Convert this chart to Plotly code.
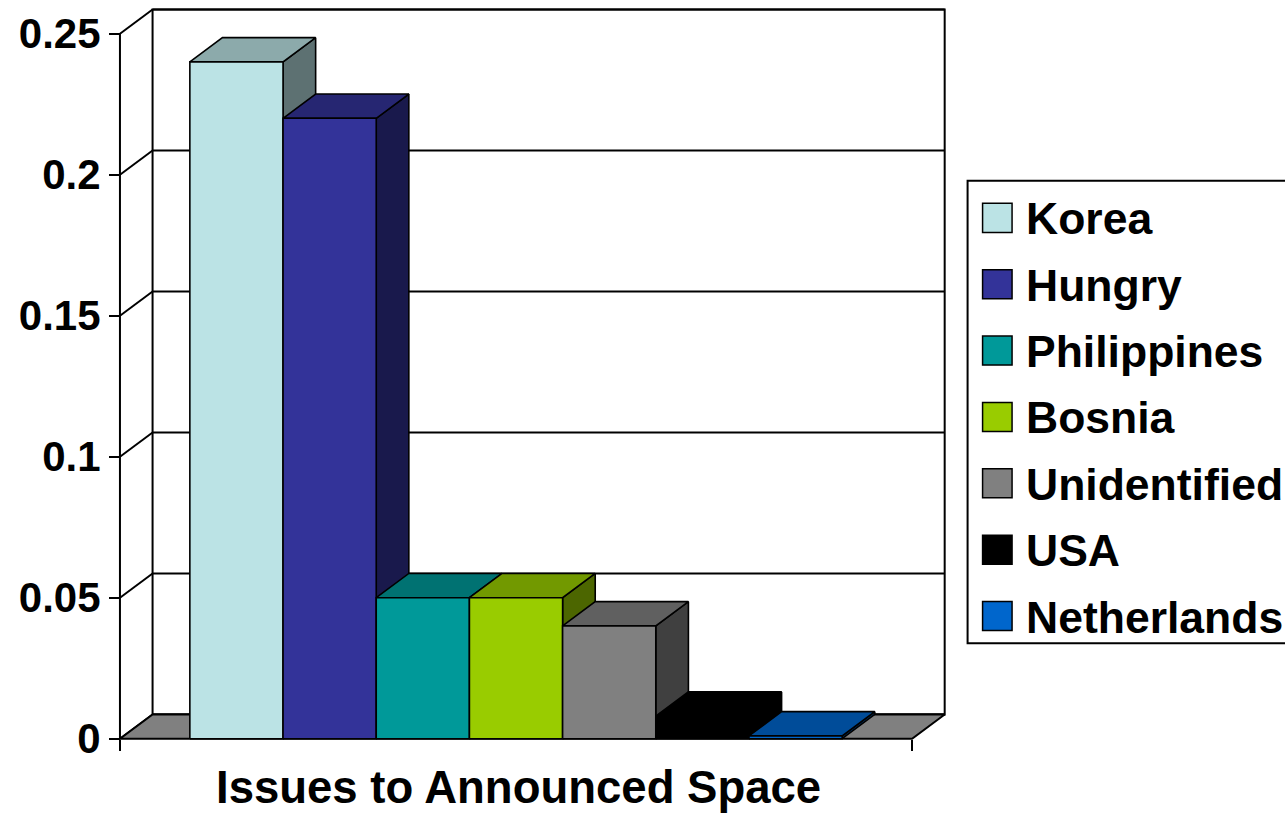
import plotly.graph_objects as go

# ---- data -------------------------------------------------------------
countries = ["Korea", "Hungry", "Philippines", "Bosnia", "Unidentified", "USA", "Netherlands"]
values = [0.24, 0.22, 0.05, 0.05, 0.04, 0.008, 0.001]
colors = ["#BBE3E5", "#333399", "#009999", "#99CC00", "#808080", "#000000", "#0066CC"]
tick_vals = [0, 0.05, 0.1, 0.15, 0.2, 0.25]
tick_text = ["0", "0.05", "0.1", "0.15", "0.2", "0.25"]
category_label = "Issues to Announced Space"

# ---- pseudo-3D geometry (axis units) -----------------------------------
GAP = 0.75            # empty floor on each side of the column group, in column widths
DEPTH_X = 0.35        # oblique depth offset along x (column widths)
DEPTH_Y = 0.0086      # oblique depth offset along y (value units)
V_TOP = tick_vals[-1]
FLOOR_W = 2 * GAP + len(values)

FONT = "Liberation Sans, Arial, sans-serif"
FIG_W, FIG_H = 1285, 813
PX_U, PX_V = 93.23, 2817.0      # pixels per axis unit
ORIGIN_X, ORIGIN_Y = 120.0, 738.3  # pixel position of (0, 0)

u_min, u_max = -0.3, FLOOR_W + DEPTH_X + 0.1
v_min, v_max = -0.004, V_TOP + DEPTH_Y + 0.003

ml = ORIGIN_X + u_min * PX_U
pw = (u_max - u_min) * PX_U
mr = FIG_W - ml - pw
bottom_px = ORIGIN_Y - v_min * PX_V
mb = FIG_H - bottom_px
ph = (v_max - v_min) * PX_V
mt = FIG_H - mb - ph


def px_to_paper(px, py):
    return (px - ml) / pw, (bottom_px - py) / ph


def shade(hex_color, k):
    h = hex_color.lstrip("#")
    r, g, b = (int(h[i:i + 2], 16) for i in (0, 2, 4))
    return "#{:02X}{:02X}{:02X}".format(int(r * k), int(g * k), int(b * k))


fig = go.Figure()


def poly(xs, ys, fill, lw=1.6):
    fig.add_trace(go.Scatter(
        x=list(xs) + [xs[0]], y=list(ys) + [ys[0]],
        mode="lines", fill="toself", fillcolor=fill,
        line=dict(color="black", width=lw),
        hoverinfo="skip", showlegend=False,
    ))


def lines(xs, ys, lw=2):
    fig.add_trace(go.Scatter(
        x=xs, y=ys, mode="lines", line=dict(color="black", width=lw),
        hoverinfo="skip", showlegend=False, connectgaps=False,
    ))


dx, dy = DEPTH_X, DEPTH_Y

# back wall
poly([dx, FLOOR_W + dx, FLOOR_W + dx, dx], [dy, dy, V_TOP + dy, V_TOP + dy], "white", lw=2)

# gridlines on the back wall and the matching edges on the left wall
gx, gy = [], []
for t in tick_vals:
    gx += [dx, FLOOR_W + dx, None]
    gy += [t + dy, t + dy, None]
    gx += [0, dx, None]
    gy += [t, t + dy, None]
gx += [0, 0]
gy += [0, V_TOP]
lines(gx, gy)

# floor
poly([0, FLOOR_W, FLOOR_W + dx, dx], [0, 0, dy, dy], "#808080", lw=2)

# columns, left to right so each one hides the side of the previous
for i, (v, c) in enumerate(zip(values, colors)):
    x0 = GAP + i
    x1 = x0 + 1
    poly([x1, x1 + dx, x1 + dx, x1], [0, dy, v + dy, v], shade(c, 0.5))
    poly([x0, x1, x1 + dx, x0 + dx], [v, v, v + dy, v + dy], shade(c, 0.75))
    poly([x0, x1, x1, x0], [0, 0, v, v], c)

# ---- legend ------------------------------------------------------------
shapes = []
annotations = []
lx0, ly0 = px_to_paper(968, 181)
lx1, ly1 = px_to_paper(1300, 643)
shapes.append(dict(type="rect", xref="paper", yref="paper", x0=lx0, x1=lx1, y0=ly1, y1=ly0,
                   line=dict(color="black", width=2), fillcolor="rgba(0,0,0,0)"))
row0, row_step = 218.0, 66.3
for i, (name, c) in enumerate(zip(countries, colors)):
    cy = row0 + i * row_step
    sx0, sy0 = px_to_paper(983, cy - 14.5)
    sx1, sy1 = px_to_paper(1012.5, cy + 14.5)
    shapes.append(dict(type="rect", xref="paper", yref="paper", x0=sx0, x1=sx1, y0=sy1, y1=sy0,
                       line=dict(color="black", width=1.5), fillcolor=c))
    tx, ty = px_to_paper(1024, cy + 1)
    annotations.append(dict(xref="paper", yref="paper", x=tx, y=ty, xanchor="left", yanchor="middle",
                            text=name, showarrow=False,
                            font=dict(family=FONT, size=44.5, color="black", weight="bold")))

# category label under the floor
cx, cy = px_to_paper(519, 787)
annotations.append(dict(xref="paper", yref="paper", x=cx, y=cy, xanchor="center", yanchor="middle",
                        text=category_label, showarrow=False,
                        font=dict(family=FONT, size=45.5, color="black", weight="bold")))

fig.update_layout(
    width=FIG_W, height=FIG_H, autosize=False,
    margin=dict(l=ml, r=mr, t=mt, b=mb, pad=0),
    paper_bgcolor="white", plot_bgcolor="rgba(0,0,0,0)",
    showlegend=False,
    shapes=shapes, annotations=annotations,
    xaxis=dict(range=[u_min, u_max], showgrid=False, zeroline=False, showline=False,
               tickvals=[0, FLOOR_W], ticks="outside", ticklen=11, tickwidth=2, tickcolor="black",
               showticklabels=False, anchor="free", position=(0 - v_min) / (v_max - v_min),
               fixedrange=True),
    yaxis=dict(range=[v_min, v_max], showgrid=False, zeroline=False, showline=False,
               tickvals=tick_vals, ticktext=tick_text, ticks="outside", ticklen=11, tickwidth=2,
               tickcolor="black", anchor="free", position=(0 - u_min) / (u_max - u_min),
               tickfont=dict(family=FONT, size=42, color="black", weight="bold"),
               fixedrange=True),
)

fig.write_html("out.html")
